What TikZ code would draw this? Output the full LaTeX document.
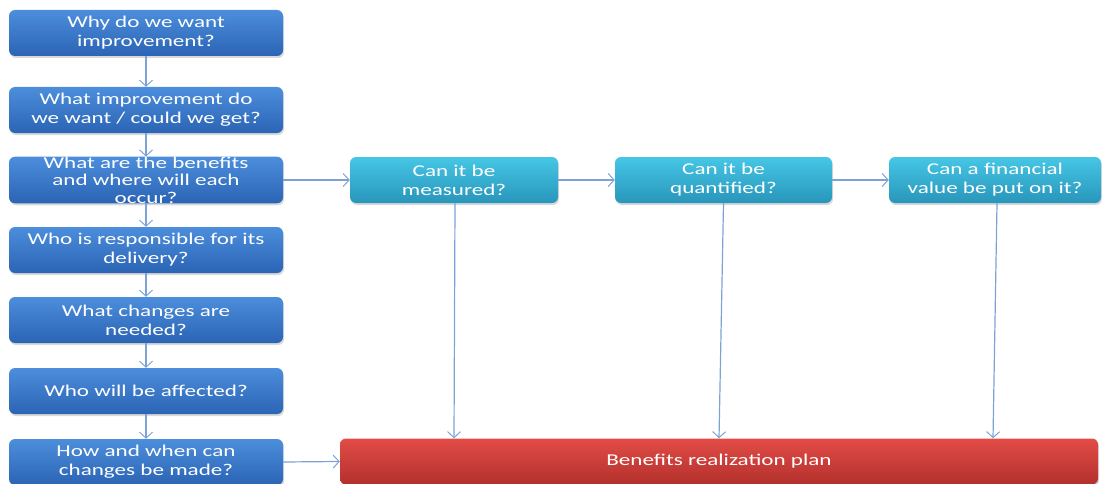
\documentclass[tikz,border=0pt]{standalone}
\usepackage{fontspec}
\setmainfont[FakeStretch=1.4]{Carlito}
\usetikzlibrary{arrows.meta,shadows}
\definecolor{bluetop}{HTML}{4C8EDC}
\definecolor{bluebot}{HTML}{2B64B4}
\definecolor{cyantop}{HTML}{46C6E6}
\definecolor{cyanbot}{HTML}{2896BA}
\definecolor{redtop}{HTML}{E24C47}
\definecolor{redbot}{HTML}{B3302C}
\definecolor{linkblue}{HTML}{7DA3D6}
\begin{document}
\begin{tikzpicture}[x=1pt,y=-1pt,
  box/.style={rounded corners=6pt, minimum height=46pt, inner sep=0pt,
    align=center, text=white, font=\fontsize{16.5}{19}\selectfont,
    drop shadow={shadow xshift=1pt,shadow yshift=-2pt,opacity=0.3}},
  qbox/.style={box, minimum width=274pt, top color=bluetop, bottom color=bluebot},
  cbox/.style={box, top color=cyantop, bottom color=cyanbot},
  rbox/.style={box, top color=redtop, bottom color=redbot},
  link/.style={draw=linkblue, line width=1.2pt,
    -{Straight Barb[length=6pt,width=13pt,line width=1pt]}}
]
\useasboundingbox (0,0) rectangle (1102,484);

% question column
\node[qbox] (q1) at (146,33)  {Why do we want\\improvement?};
\node[qbox] (q2) at (146,110) {What improvement do\\we want / could we get?};
\node[qbox, font=\fontsize{16.5}{17.5}\selectfont] (q3) at (146,180)
  {What are the benefits\\and where will each\\occur?};
\node[qbox] (q4) at (146,250) {Who is responsible for its\\delivery?};
\node[qbox] (q5) at (146,320) {What changes are\\needed?};
\node[qbox] (q6) at (146,391) {Who will be affected?};
\node[qbox] (q7) at (146,462) {How and when can\\changes be made?};

% benefit tests
\node[cbox, minimum width=208pt] (c1) at (454,180)   {Can it be\\measured?};
\node[cbox, minimum width=217pt] (c2) at (723.5,180) {Can it be\\quantified?};
\node[cbox, minimum width=212pt] (c3) at (995,180)   {Can a financial\\value be put on it?};

% plan
\node[rbox, minimum width=758pt] (plan) at (719,461.5) {Benefits realization plan};

% vertical chain
\draw[link] (q1) -- (q2);
\draw[link] (q2) -- (q3);
\draw[link] (q3) -- (q4);
\draw[link] (q4) -- (q5);
\draw[link] (q5) -- (q6);
\draw[link] (q6) -- (q7);

% horizontal chain
\draw[link] (q3.east) -- (c1.west);
\draw[link] (c1.east) -- (c2.west);
\draw[link] (c2.east) -- (c3.west);
\draw[link] (q7.east) -- (plan.west);

% down to the plan
\draw[link] ([xshift=1pt]c1.south) -- (c1.south |- plan.north);
\draw[link] (c2.south) -- ([xshift=-4.5pt]c2.south |- plan.north);
\draw[link] ([xshift=2pt]c3.south) -- ([xshift=-2pt]c3.south |- plan.north);
\end{tikzpicture}
\end{document}
